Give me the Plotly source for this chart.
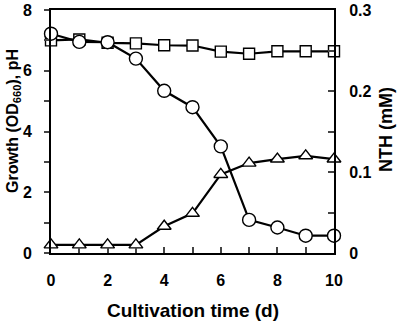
import plotly.graph_objects as go

days = [0, 1, 2, 3, 4, 5, 6, 7, 8, 9, 10]
growth_circles = [7.22, 6.95, 6.94, 6.4, 5.34, 4.8, 3.51, 1.09, 0.84, 0.57, 0.57]
ph_squares = [7.0, 7.03, 6.92, 6.9, 6.84, 6.83, 6.63, 6.56, 6.64, 6.64, 6.64]
nth_triangles = [0.01, 0.01, 0.01, 0.01, 0.033, 0.049, 0.097, 0.111, 0.116, 0.12, 0.116]

FONT = "Liberation Sans, Arial, sans-serif"
line = dict(color="black", width=2.2)

fig = go.Figure()
fig.add_trace(go.Scatter(x=days, y=ph_squares, mode="lines+markers", line=line,
                         marker=dict(symbol="square", size=11, color="white", line=dict(color="black", width=1.4)),
                         cliponaxis=False, showlegend=False))
fig.add_trace(go.Scatter(x=days, y=growth_circles, mode="lines+markers", line=line,
                         marker=dict(symbol="circle", size=13, color="white", line=dict(color="black", width=1.4)),
                         cliponaxis=False, showlegend=False))
fig.add_trace(go.Scatter(x=days, y=nth_triangles, mode="lines+markers", line=line, yaxis="y2",
                         marker=dict(symbol="triangle-up", size=12, color="white", line=dict(color="black", width=1.4)),
                         cliponaxis=False, showlegend=False))

tickfont = dict(family=FONT, size=16, color="black", weight="bold")

fig.update_layout(
    width=400, height=321,
    margin=dict(l=51, r=66, t=10, b=68, pad=0),
    paper_bgcolor="white", plot_bgcolor="white",
    font=dict(family=FONT, color="black"),
    xaxis=dict(range=[0, 10], dtick=2, tick0=0, ticks="inside", ticklen=6, tickwidth=2,
               showline=True, linewidth=2, linecolor="black", mirror=True, automargin=False,
               showgrid=False, zeroline=False, tickfont=tickfont, ticklabelstandoff=12,
               minor=dict(dtick=1, ticks="inside", ticklen=6, tickwidth=2, showgrid=False)),
    yaxis=dict(range=[0, 8], dtick=2, tick0=0, ticks="outside", ticklen=5, tickwidth=2,
               showline=True, linewidth=2, linecolor="black", automargin=False,
               showgrid=False, zeroline=False, tickfont=tickfont, ticklabelstandoff=9,
               minor=dict(dtick=1, ticks="outside", ticklen=5, tickwidth=2, showgrid=False)),
    yaxis2=dict(range=[0, 0.3], dtick=0.1, tick0=0, overlaying="y", side="right",
                ticks="inside", ticklen=6, tickwidth=2, automargin=False,
                showline=True, linewidth=2, linecolor="black",
                showgrid=False, zeroline=False, tickfont=tickfont, ticklabelstandoff=10,
                minor=dict(dtick=0.05, ticks="inside", ticklen=6, tickwidth=2, showgrid=False)),
)

# side / bottom titles positioned in pixel terms, converted to paper coordinates
L, R, T, B, W, H = 51, 66, 10, 68, 400, 321
pw, ph = W - L - R, H - T - B

def px(x):
    return (x - L) / pw

def py(y):
    return (H - B - y) / ph

titles = [
    ("Cultivation time (d)", 193, 310, 0, 19),
    ("Growth (OD<sub>660</sub>), pH", 13, 121, -90, 16),
    ("NTH (mM)", 386, 130, -90, 18),
]
for text, x, y, ang, size in titles:
    fig.add_annotation(text=text, x=px(x), y=py(y), xref="paper", yref="paper",
                       xanchor="center", yanchor="middle", showarrow=False, textangle=ang,
                       font=dict(family=FONT, size=size, color="black", weight="bold"))

fig.write_html("out.html", config={"displayModeBar": False},
               post_script="document.body.style.margin='0';")
